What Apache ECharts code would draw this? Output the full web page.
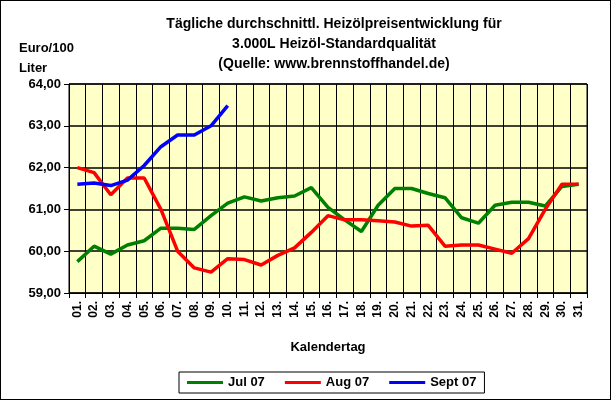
<!DOCTYPE html><html><head><meta charset="utf-8"><script src="https://cdn.jsdelivr.net/npm/echarts@6/dist/echarts.min.js"></script>
<style>body{margin:0}#c{width:611px;height:400px;box-sizing:border-box;border:1px solid #000}</style></head><body><div id="c"></div><script>
const days=['01.','02.','03.','04.','05.','06.','07.','08.','09.','10.','11.','12.','13.','14.','15.','16.','17.','18.','19.','20.','21.','22.','23.','24.','25.','26.','27.','28.','29.','30.','31.'];
const jul=[59.75,60.12,59.93,60.15,60.25,60.55,60.55,60.52,60.85,61.15,61.3,61.2,61.28,61.32,61.52,61.05,60.75,60.47,61.1,61.5,61.5,61.38,61.28,60.8,60.67,61.1,61.17,61.17,61.08,61.55,61.6];
const aug=[62.0,61.88,61.35,61.75,61.75,61.0,60.0,59.6,59.5,59.82,59.8,59.67,59.9,60.08,60.45,60.85,60.75,60.75,60.73,60.7,60.6,60.62,60.12,60.15,60.15,60.05,59.95,60.3,61.0,61.6,61.6];
const sep=[61.6,61.63,61.57,61.7,62.05,62.5,62.78,62.78,63.0,63.48];
const F='Arial, Liberation Sans, sans-serif';
const c=echarts.init(document.getElementById('c'));
const s=(n,d,col)=>({name:n,type:'line',data:d,symbol:'none',lineStyle:{color:col,width:3.5},itemStyle:{color:col}});
c.setOption({
 title:{text:'Tägliche durchschnittl. Heizölpreisentwicklung für\n3.000L Heizöl-Standardqualität\n(Quelle: www.brennstoffhandel.de)',left:328,textAlign:'center',top:8,textStyle:{fontFamily:F,fontSize:14,fontWeight:'bold',lineHeight:20,color:'#000'}},
 graphic:[{type:'text',left:18,top:37,style:{text:'Euro/100\nLiter',font:'bold 13px '+F,lineHeight:20}}],
 legend:{bottom:6,left:178,itemWidth:36,itemHeight:3,icon:'rect',itemGap:20,textStyle:{fontFamily:F,fontSize:13,fontWeight:'bold',color:'#000'},borderColor:'#000',borderWidth:1,padding:[4,8]},
 grid:{left:68,right:23,top:83,bottom:106,backgroundColor:'#ffffc8',show:true,borderColor:'#000',borderWidth:1},
 xAxis:{type:'category',data:days,name:'Kalendertag',nameLocation:'middle',nameGap:48,nameTextStyle:{fontFamily:F,fontSize:13,fontWeight:'bold',color:'#000'},
  axisLine:{lineStyle:{color:'#000'}},axisTick:{show:true,lineStyle:{color:'#000'}},splitLine:{show:true,interval:0,lineStyle:{color:'#000',width:1}},
  axisLabel:{rotate:90,interval:0,fontFamily:F,fontSize:12,fontWeight:'bold',color:'#000'}},
 yAxis:{type:'value',min:59,max:64,interval:1,axisLine:{show:true,lineStyle:{color:'#000'}},axisTick:{show:true},splitLine:{lineStyle:{color:'#000',width:1.5}},
  axisLabel:{formatter:v=>v.toFixed(2).replace('.',','),fontFamily:F,fontSize:13,fontWeight:'bold',color:'#000'}},
 series:[s('Jul 07',jul,'#008000'),s('Aug 07',aug,'#ff0000'),s('Sept 07',sep,'#0000ff')]
});
</script></body></html>
